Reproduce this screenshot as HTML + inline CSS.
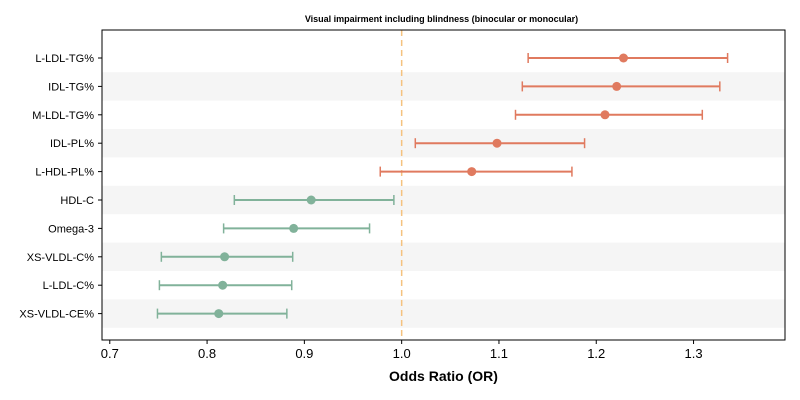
<!DOCTYPE html>
<html><head><meta charset="utf-8"><style>
body{margin:0;background:#fff;font-family:"Liberation Sans","DejaVu Sans",sans-serif}
svg{display:block}
</style></head><body>
<svg id="c" width="800" height="400"></svg>
<script>
const categories=["L-LDL-TG%","IDL-TG%","M-LDL-TG%","IDL-PL%","L-HDL-PL%","HDL-C","Omega-3","XS-VLDL-C%","L-LDL-C%","XS-VLDL-CE%"];
const orValues=[1.228,1.221,1.209,1.098,1.072,0.907,0.889,0.818,0.816,0.812];
const lowerCI=[1.130,1.124,1.117,1.014,0.978,0.828,0.817,0.753,0.751,0.749];
const upperCI=[1.335,1.327,1.309,1.188,1.175,0.992,0.967,0.888,0.887,0.882];
const xTicks=[0.7,0.8,0.9,1.0,1.1,1.2,1.3];
const NS="http://www.w3.org/2000/svg";
const svg=document.getElementById('c');
const L=102,R=785,T=30,B=340;
const xmin=0.692,xmax=1.394;
const x=v=>L+(v-xmin)/(xmax-xmin)*(R-L);
const rowH=(B-T-26)/categories.length; // rows
const y=i=>58+i*28.4;
function mk(t,a,p){const e=document.createElementNS(NS,t);for(const k in a)e.setAttribute(k,a[k]);(p||svg).appendChild(e);return e;}
categories.forEach((c,i)=>{
 if(i%2===1){const b=mk('rect',{x:L,y:y(i)-14.2,width:R-L,height:28.4,fill:'#f5f5f5'});
 
 }
});
const ref=mk('line',{x1:x(1),x2:x(1),y1:T,y2:B,stroke:'#f5c27f','stroke-width':1.5,'stroke-dasharray':'6,4'});


categories.forEach((c,i)=>{
 const col=orValues[i]>1?'#e07a5f':'#81b29a';
 const g=mk('g',{});
 
 
 const yy=y(i);
 mk('line',{x1:x(lowerCI[i]),x2:x(upperCI[i]),y1:yy,y2:yy,stroke:col,'stroke-width':2},g);
 mk('line',{x1:x(lowerCI[i]),x2:x(lowerCI[i]),y1:yy-5,y2:yy+5,stroke:col,'stroke-width':1.5},g);
 mk('line',{x1:x(upperCI[i]),x2:x(upperCI[i]),y1:yy-5,y2:yy+5,stroke:col,'stroke-width':1.5},g);
 mk('circle',{cx:x(orValues[i]),cy:yy,r:4.5,fill:col},g);
 mk('line',{x1:L-4,x2:L,y1:yy,y2:yy,stroke:'#000'});
 const t=mk('text',{x:L-8,y:yy+4,'text-anchor':'end','font-size':11});
 t.textContent=c;
 
 
});
xTicks.forEach(v=>{
 mk('line',{x1:x(v),x2:x(v),y1:B,y2:B+4,stroke:'#000'});
 const t=mk('text',{x:x(v),y:B+18,'text-anchor':'middle','font-size':13});
 t.textContent=v.toFixed(1);
 
 
});
const fr=mk('rect',{x:L,y:T,width:R-L,height:B-T,fill:'none',stroke:'#000','stroke-width':1});


const xt=mk('text',{x:(L+R)/2,y:381,'text-anchor':'middle','font-size':14,'font-weight':'bold'});
xt.textContent='Odds Ratio (OR)';


const tt=mk('text',{x:(L+R)/2-2,y:22,'text-anchor':'middle','font-size':9,'font-weight':'bold'});
tt.textContent='Visual impairment including blindness (binocular or monocular)';


</script>
</body></html>
